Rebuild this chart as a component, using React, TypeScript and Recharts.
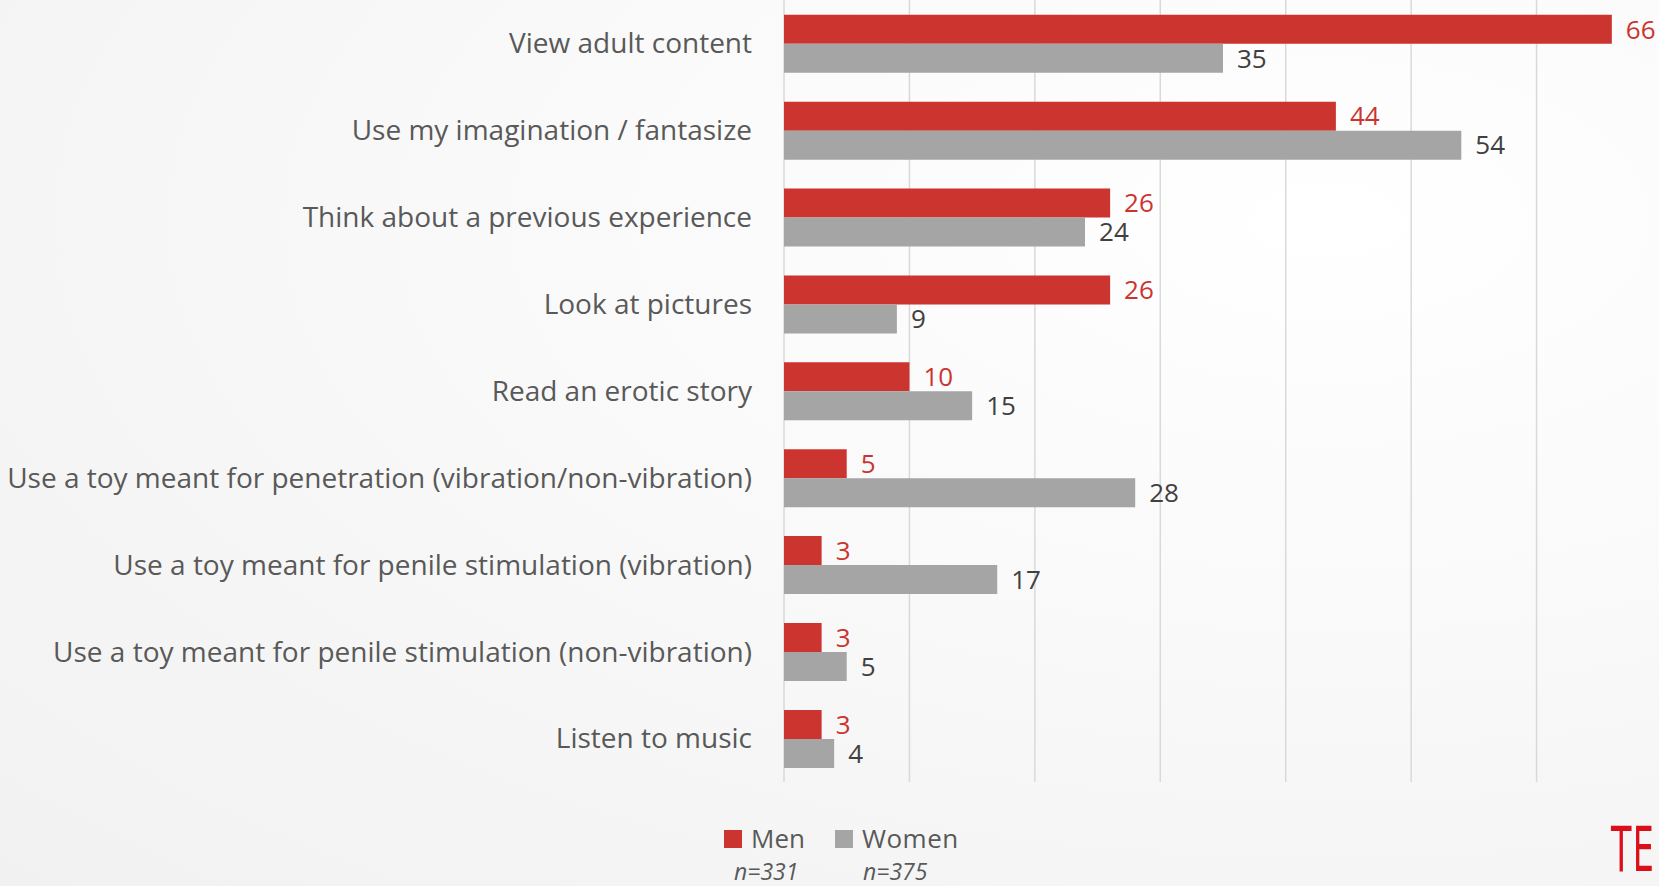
import React from "react";
import { Bar, BarChart, CartesianGrid, LabelList, XAxis, YAxis } from "recharts";

const categories = [
  "View adult content",
  "Use my imagination / fantasize",
  "Think about a previous experience",
  "Look at pictures",
  "Read an erotic story",
  "Use a toy meant for penetration (vibration/non-vibration)",
  "Use a toy meant for penile stimulation (vibration)",
  "Use a toy meant for penile stimulation (non-vibration)",
  "Listen to music",
];
const men = [66, 44, 26, 26, 10, 5, 3, 3, 3];
const women = [35, 54, 24, 9, 15, 28, 17, 5, 4];
const xTicks = [0, 10, 20, 30, 40, 50, 60, 70];

const data = categories.map((name, i) => ({ name, men: men[i], women: women[i] }));

const FONT = "'Open Sans', sans-serif";
const RED = "#cc3430";
const GRAY = "#a5a5a5";
const TEXT = "#595959";

export default function App() {
  return (
    <div
      style={{
        position: "absolute",
        left: 0,
        top: 0,
        width: 1659,
        height: 886,
        overflow: "hidden",
        fontFamily: FONT,
        background: "radial-gradient(ellipse at 80% 25%, #ffffff 0%, #f9f9f9 45%, #f1f1f1 100%)",
      }}
    >
      <BarChart
        width={1680}
        height={886}
        data={data}
        layout="vertical"
        margin={{ top: 0, right: 18, bottom: 104, left: 0 }}
        barCategoryGap="17%"
        barGap={0}
      >
        <CartesianGrid horizontal={false} stroke="#d9d9d9" strokeWidth={1.5} />
        <XAxis type="number" domain={[0, 70]} ticks={xTicks} hide />
        <YAxis
          type="category"
          dataKey="name"
          width={784}
          tickLine={false}
          axisLine={false}
          tickSize={0}
          tickMargin={32}
          tick={{ fontSize: 28, fill: TEXT, fontFamily: FONT }}
          interval={0}
        />
        <Bar dataKey="men" fill={RED} isAnimationActive={false}>
          <LabelList dataKey="men" position="right" offset={14} fill={RED} fontSize={26} fontFamily={FONT} />
        </Bar>
        <Bar dataKey="women" fill={GRAY} isAnimationActive={false}>
          <LabelList dataKey="women" position="right" offset={14} fill="#404040" fontSize={26} fontFamily={FONT} />
        </Bar>
      </BarChart>

      <div
        style={{
          position: "absolute",
          left: 724,
          top: 825,
          display: "flex",
          alignItems: "center",
          color: TEXT,
          fontSize: 26,
          lineHeight: "27px",
        }}
      >
        <span style={{ width: 18, height: 18, background: RED, display: "inline-block", marginRight: 9 }} />
        <span>Men</span>
        <span style={{ width: 18, height: 18, background: GRAY, display: "inline-block", marginLeft: 30, marginRight: 9 }} />
        <span style={{ letterSpacing: 0.5 }}>Women</span>
      </div>
      <div style={{ position: "absolute", left: 734, top: 855, color: TEXT, fontSize: 23, fontStyle: "italic" }}>
        n=331
      </div>
      <div style={{ position: "absolute", left: 863, top: 855, color: TEXT, fontSize: 23, fontStyle: "italic" }}>
        n=375
      </div>

      <div
        style={{
          position: "absolute",
          left: 1611,
          top: 820,
          color: "#d9101a",
          fontFamily: "'DejaVu Sans Condensed', sans-serif",
          fontSize: 62,
          lineHeight: "60px",
          whiteSpace: "nowrap",
          transform: "scaleX(0.6)",
          transformOrigin: "left top",
          letterSpacing: 2,
        }}
      >
        TE
      </div>
    </div>
  );
}
